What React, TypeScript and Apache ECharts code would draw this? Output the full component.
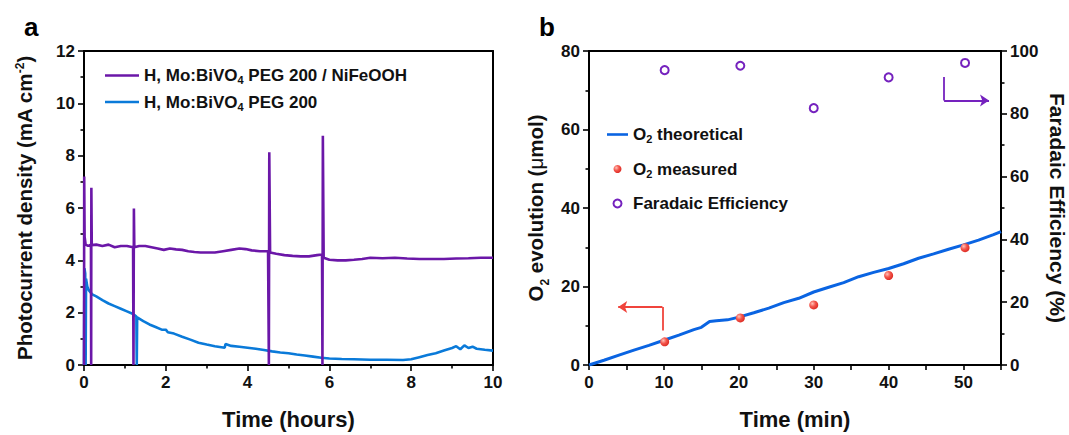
import React, { useEffect, useRef } from "react";
import * as echarts from "echarts";

// ---------- Panel a data: photocurrent density (mA cm^-2) vs time (hours)
const purpleName = "H, Mo:BiVO4 PEG 200 / NiFeOOH";
const blueName = "H, Mo:BiVO4 PEG 200";
const purpleSeries: number[][] = [
  [0, 0], [0.005, 7.2], [0.015, 4.9], [0.04, 4.6], [0.1, 4.55], [0.17, 4.6], [0.175, 0], [0.18, 6.77], [0.19, 4.58],
  [0.3, 4.6], [0.45, 4.55], [0.6, 4.6], [0.75, 4.5], [0.9, 4.55], [1.05, 4.55], [1.2, 4.5], [1.21, 0], [1.22, 5.98],
  [1.23, 4.5], [1.35, 4.55], [1.5, 4.55], [1.65, 4.5], [1.8, 4.45], [1.95, 4.4], [2.1, 4.45], [2.25, 4.42], [2.4, 4.4],
  [2.55, 4.35], [2.7, 4.32], [2.85, 4.3], [3.0, 4.3], [3.2, 4.3], [3.4, 4.35], [3.6, 4.4], [3.8, 4.45], [3.95, 4.43],
  [4.1, 4.38], [4.3, 4.35], [4.5, 4.35], [4.52, 0], [4.53, 8.13], [4.55, 4.3], [4.7, 4.25], [4.9, 4.2], [5.1, 4.17],
  [5.3, 4.15], [5.5, 4.15], [5.7, 4.2], [5.82, 4.22], [5.83, 0], [5.84, 8.76], [5.86, 4.1], [6.0, 4.02], [6.2, 4.0],
  [6.4, 4.0], [6.6, 4.02], [6.8, 4.05], [7.0, 4.1], [7.3, 4.08], [7.6, 4.1], [7.9, 4.07], [8.2, 4.05], [8.5, 4.05],
  [8.8, 4.05], [9.1, 4.07], [9.4, 4.08], [9.7, 4.1], [10, 4.1],
];
const blueSeries: number[][] = [
  [0, 0], [0.01, 3.7], [0.03, 3.5], [0.04, 0], [0.05, 3.3], [0.08, 3.0], [0.12, 2.85], [0.2, 2.7], [0.3, 2.62],
  [0.45, 2.48], [0.6, 2.35], [0.75, 2.25], [0.9, 2.15], [1.05, 2.05], [1.2, 1.95], [1.28, 1.85], [1.29, 0], [1.3, 1.82],
  [1.45, 1.68], [1.6, 1.55], [1.75, 1.45], [1.9, 1.35], [2.0, 1.35], [2.05, 1.25], [2.2, 1.2], [2.4, 1.08], [2.6, 0.97],
  [2.8, 0.85], [3.0, 0.78], [3.2, 0.72], [3.44, 0.66], [3.46, 0.8], [3.6, 0.73], [3.8, 0.7], [4.0, 0.66], [4.2, 0.62],
  [4.4, 0.57], [4.6, 0.52], [4.8, 0.48], [5.0, 0.45], [5.2, 0.4], [5.4, 0.36], [5.6, 0.32], [5.8, 0.28], [6.0, 0.25],
  [6.3, 0.23], [6.6, 0.22], [7.0, 0.2], [7.4, 0.2], [7.8, 0.19], [8.0, 0.22], [8.2, 0.3], [8.4, 0.38], [8.6, 0.45],
  [8.8, 0.55], [9.0, 0.65], [9.1, 0.72], [9.2, 0.6], [9.3, 0.75], [9.4, 0.65], [9.5, 0.7], [9.6, 0.62], [9.8, 0.58],
  [10, 0.55],
];

// ---------- Panel b data: O2 evolution (µmol) and Faradaic efficiency (%) vs time (min)
const theoName = "O2 theoretical";
const measName = "O2 measured";
const feName = "Faradaic Efficiency";
const o2Theoretical: number[][] = [
  [0, 0], [2, 1.2], [4, 2.5], [6, 3.8], [8, 5.0], [10, 6.3], [12, 7.6], [14, 9.0], [15, 9.6], [16.1, 11.1],
  [17, 11.3], [18.5, 11.5], [20, 12.2], [22, 13.3], [24, 14.5], [26, 15.9], [28, 17.0], [30, 18.6], [32, 19.8],
  [34, 21.0], [36, 22.5], [38, 23.6], [40, 24.6], [42, 25.8], [44, 27.2], [46, 28.3], [48, 29.5], [50, 30.6],
  [52, 31.8], [54, 33.2], [55, 34.0],
];
const o2Measured: number[][] = [[10.1, 5.9], [20.2, 12.0], [30, 15.3], [40, 22.8], [50.2, 29.9]];
const faradaicEff: number[][] = [[10.1, 93.9], [20.2, 95.3], [30, 81.8], [40, 91.6], [50.2, 96.2]];

// arrow annotations (data coordinates): corner-shaped arrows pointing to each axis
const redArrow: number[][] = [[9.8, 8.8], [9.8, 14.75], [3.9, 14.75]]; // left axis
const purpleArrow: number[][] = [[47.4, 91.7], [47.4, 84.2], [53.4, 84.2]]; // right axis

const FONT = "'Liberation Sans', Arial, Helvetica, sans-serif";
const PURPLE = "#6B17A8";
const BLUE_A = "#0A7AD9";
const BLUE_B = "#0A64E2";
const RED = "#F0443C";
const FE_PURPLE = "#7522BE";

const bold = (size: number) => ({ fontFamily: FONT, fontWeight: "bold" as const, fontSize: size, color: "#111" });

function axisCommon(extra: any) {
  return {
    axisLine: { show: true, lineStyle: { color: "#000", width: 2 } },
    axisTick: { show: true, length: 6, lineStyle: { color: "#000", width: 1.6 } },
    minorTick: { show: true, splitNumber: 2, length: 3.5, lineStyle: { color: "#000", width: 1.6 } },
    splitLine: { show: false },
    minorSplitLine: { show: false },
    axisLabel: { ...bold(17), margin: 9 },
    nameTextStyle: bold(21),
    ...extra,
  };
}

// plain frame line (top / right edges of a box)
function frameAxis(extra: any) {
  return {
    type: "value",
    axisLine: { show: true, onZero: false, lineStyle: { color: "#000", width: 2 } },
    axisTick: { show: false },
    minorTick: { show: false },
    axisLabel: { show: false },
    splitLine: { show: false },
    silent: true,
    ...extra,
  };
}

export default function App() {
  const ref = useRef<HTMLDivElement>(null);
  useEffect(() => {
    document.body.style.margin = "0";
    if (!ref.current) return;
    const chart = echarts.init(ref.current, null, { renderer: "svg" });

    const redGrad = new echarts.graphic.RadialGradient(0.35, 0.35, 0.75, [
      { offset: 0, color: "#FFC2B8" },
      { offset: 0.45, color: "#F4564C" },
      { offset: 1, color: "#D8231C" },
    ]);

    const legendRich = {
      sub: { fontFamily: FONT, fontWeight: "bold", fontSize: 11, color: "#111", verticalAlign: "bottom", lineHeight: 17 },
      n: { fontFamily: FONT, fontWeight: "bold", fontSize: 17, color: "#111", lineHeight: 20 },
    };
    const lineIconA = "path://M0,0L34,0L34,2.4L0,2.4Z";
    const lineIconB = "path://M0,0L21,0L21,2.6L0,2.6Z";

    const segSeries = (a: number[], b: number[], color: string, yIdx: number, arrow: boolean) => ({
      type: "lines",
      coordinateSystem: "cartesian2d",
      xAxisIndex: 1,
      yAxisIndex: yIdx,
      silent: true,
      symbol: arrow ? ["none", "arrow"] : ["none", "none"],
      symbolSize: [0, 9],
      lineStyle: { color, width: 1.8, opacity: 1, curveness: 0 },
      data: [{ coords: [a, b] }],
      z: 5,
    });

    const option: any = {
      animation: false,
      backgroundColor: "#fff",
      title: [
        { text: "a", left: 19, top: 9, textStyle: { ...bold(26), color: "#000" } },
        { text: "b", left: 534, top: 9, textStyle: { ...bold(26), color: "#000" } },
      ],
      grid: [
        { left: 84, top: 51, width: 409, height: 315.5 },
        { left: 589, top: 51, width: 413, height: 315.5 },
      ],
      legend: [
        {
          left: 100, top: 62, orient: "vertical", itemWidth: 34, itemHeight: 14, itemGap: 8,
          data: [
            { name: purpleName, icon: lineIconA, itemStyle: { color: PURPLE } },
            { name: blueName, icon: lineIconA, itemStyle: { color: BLUE_A } },
          ],
          formatter: (n: string) =>
            n === purpleName ? "{n|H, Mo:BiVO}{sub|4}{n| PEG 200 / NiFeOOH}" : "{n|H, Mo:BiVO}{sub|4}{n| PEG 200}",
          textStyle: { ...bold(17), rich: legendRich },
        },
        {
          left: 602, top: 121, orient: "vertical", itemWidth: 21, itemHeight: 8, itemGap: 16,
          data: [
            { name: theoName, icon: lineIconB, itemStyle: { color: BLUE_B } },
            { name: measName },
            { name: feName },
          ],
          formatter: (n: string) =>
            n === theoName ? "{n|O}{sub|2}{n| theoretical}" : n === measName ? "{n|O}{sub|2}{n| measured}" : "{n|Faradaic Efficiency}",
          textStyle: { ...bold(17), rich: legendRich },
        },
      ],
      xAxis: [
        axisCommon({
          gridIndex: 0, type: "value", position: "bottom", min: 0, max: 10, interval: 2,
          name: "Time (hours)", nameLocation: "middle", nameGap: 43,
          nameTextStyle: bold(22),
        }),
        axisCommon({
          gridIndex: 1, type: "value", position: "bottom", min: 0, max: 55, interval: 5,
          minorTick: { show: false },
          axisTick: { show: true, length: 5, lineStyle: { color: "#000", width: 1.6 } },
          axisLabel: { ...bold(17), margin: 9, formatter: (v: number) => (v % 10 === 0 ? String(v) : "") },
          name: "Time (min)", nameLocation: "middle", nameGap: 43,
          nameTextStyle: bold(22),
        }),
        frameAxis({ gridIndex: 0, position: "top", min: 0, max: 10 }),
        frameAxis({ gridIndex: 1, position: "top", min: 0, max: 55 }),
      ],
      yAxis: [
        axisCommon({
          gridIndex: 0, type: "value", position: "left", min: 0, max: 12, interval: 2,
          name: "Photocurrent density (mA cm{sup|-2})", nameLocation: "middle", nameGap: 49,
          nameTextStyle: {
            ...bold(20.5),
            rich: { sup: { fontFamily: FONT, fontWeight: "bold", fontSize: 12, color: "#111", verticalAlign: "top" } },
          },
        }),
        axisCommon({
          gridIndex: 1, type: "value", min: 0, max: 80, interval: 20, position: "left",
          name: "O{sub|2} evolution ({mu|μ}mol)", nameLocation: "middle", nameGap: 43,
          nameTextStyle: {
            ...bold(20.5),
            rich: {
              sub: { fontFamily: FONT, fontWeight: "bold", fontSize: 12, color: "#111", verticalAlign: "bottom", padding: [0, 0, -5, 0] },
              mu: { fontFamily: FONT, fontWeight: "normal", fontSize: 20.5, color: "#111" },
            },
          },
        }),
        axisCommon({
          gridIndex: 1, type: "value", min: 0, max: 100, interval: 20, position: "right",
          axisLine: { show: true, onZero: false, lineStyle: { color: "#000", width: 2 } },
          name: "Faradaic Efficiency (%)", nameLocation: "middle", nameGap: 46, nameRotate: -90,
        }),
        frameAxis({ gridIndex: 0, position: "right", min: 0, max: 12 }),
      ],
      series: [
        {
          name: purpleName, type: "line", xAxisIndex: 0, yAxisIndex: 0, data: purpleSeries,
          symbol: "none", lineStyle: { color: PURPLE, width: 2.6 }, itemStyle: { color: PURPLE }, z: 3,
        },
        {
          name: blueName, type: "line", xAxisIndex: 0, yAxisIndex: 0, data: blueSeries,
          symbol: "none", lineStyle: { color: BLUE_A, width: 2.6 }, itemStyle: { color: BLUE_A }, z: 2,
        },
        {
          name: theoName, type: "line", xAxisIndex: 1, yAxisIndex: 1, data: o2Theoretical,
          symbol: "none", lineStyle: { color: BLUE_B, width: 3 }, itemStyle: { color: BLUE_B }, z: 2,
        },
        {
          name: measName, type: "scatter", xAxisIndex: 1, yAxisIndex: 1, data: o2Measured,
          symbol: "circle", symbolSize: 9, itemStyle: { color: redGrad, opacity: 1 }, z: 4,
        },
        {
          name: feName, type: "scatter", xAxisIndex: 1, yAxisIndex: 2, data: faradaicEff,
          symbol: "circle", symbolSize: 8,
          itemStyle: { color: "#fff", borderColor: FE_PURPLE, borderWidth: 2, opacity: 1 }, z: 4,
        },
        segSeries(redArrow[0], redArrow[1], RED, 1, false),
        segSeries(redArrow[1], redArrow[2], RED, 1, true),
        segSeries(purpleArrow[0], purpleArrow[1], FE_PURPLE, 2, false),
        segSeries(purpleArrow[1], purpleArrow[2], FE_PURPLE, 2, true),
      ],
    };
    chart.setOption(option);
    return () => chart.dispose();
  }, []);
  return <div ref={ref} style={{ width: 1069, height: 435 }} />;
}
